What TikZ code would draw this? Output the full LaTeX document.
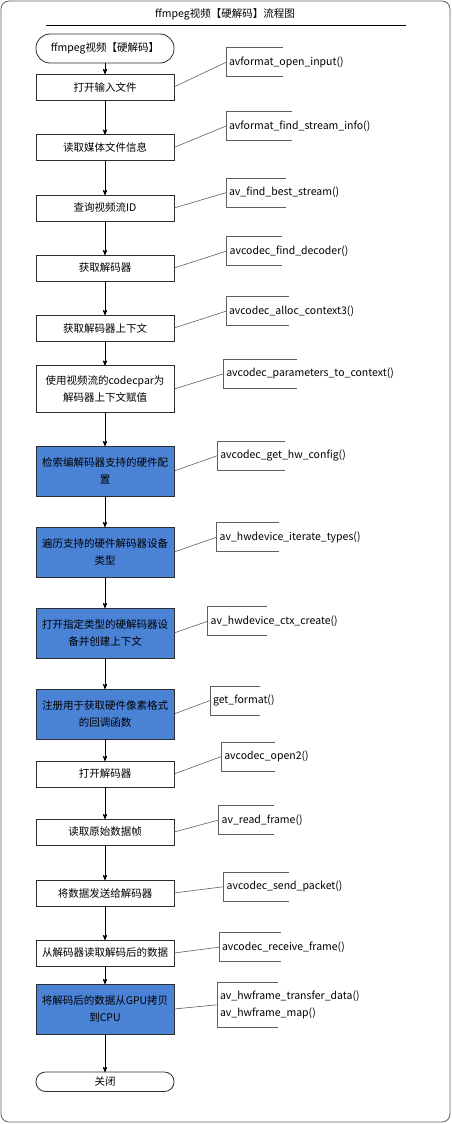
\documentclass[tikz,border=0pt]{standalone}
\usepackage{fontspec}
\setmainfont{Noto Sans CJK SC}
\usepackage{tikz}
\usetikzlibrary{arrows,positioning}

\definecolor{hwblue}{RGB}{74,130,214}
\definecolor{framegray}{RGB}{96,96,96}
\definecolor{edgegray}{RGB}{45,45,45}

\begin{document}
\begin{tikzpicture}[x=1pt,y=-1pt,->,>=stealth',line width=0.8pt,
                    every node/.style={font=\fontsize{10.5}{16.5}\selectfont},
                    plain node/.style={rectangle,draw=edgegray,minimum width=138pt,minimum height=26pt,inner sep=1pt,outer sep=0pt,align=center},
                    hw node/.style={plain node,fill=hwblue,minimum height=50pt},
                    term node/.style={plain node,rounded corners=9.5pt,minimum height=19.5pt},
                    api node/.style={anchor=west,align=left,inner xsep=3pt,inner ysep=0pt,outer sep=0pt,minimum height=29pt},
                    bracket/.style={-,framegray,line width=1pt},
                    link/.style={-,framegray,line width=0.6pt}]
\useasboundingbox (0,0) rectangle (451,1124);
\draw[-,framegray,rounded corners=8pt] (1,1) rectangle (450,1122);
\node (title) at (225,14) {ffmpeg视频【硬解码】流程图};
\draw[-] (46,25) -- (406,25);

% main chain
\node[term node,rounded corners=14pt,minimum height=29pt] (s) at (105,48.5) {ffmpeg视频【硬解码】};
\node[plain node] (1) [below=11pt of s] {打开输入文件};
\node[plain node] (2) [below=34.5pt of 1] {读取媒体文件信息};
\node[plain node] (3) [below=34.5pt of 2] {查询视频流ID};
\node[plain node] (4) [below=34pt of 3] {获取解码器};
\node[plain node] (5) [below=34pt of 4] {获取解码器上下文};
\node[plain node,minimum height=47pt] (6) [below=24.5pt of 5] {使用视频流的codecpar为\\解码器上下文赋值};
\node[hw node] (7) [below=33.5pt of 6] {检索编解码器支持的硬件配\\置};
\node[hw node] (8) [below=31pt of 7] {遍历支持的硬件解码器设备\\类型};
\node[hw node] (9) [below=31pt of 8] {打开指定类型的硬解码器设\\备并创建上下文};
\node[hw node] (10) [below=31pt of 9] {注册用于获取硬件像素格式\\的回调函数};
\node[plain node] (11) [below=22pt of 10] {打开解码器};
\node[plain node] (12) [below=32pt of 11] {读取原始数据帧};
\node[plain node] (13) [below=35pt of 12] {将数据发送给解码器};
\node[plain node] (14) [below=34pt of 13] {从解码器读取解码后的数据};
\node[hw node] (15) [below=18pt of 14] {将解码后的数据从GPU拷贝\\到CPU};
\node[term node] (e) [below=38pt of 15] {关闭};

\path (s) edge (1)
      (1) edge (2)
      (2) edge (3)
      (3) edge (4)
      (4) edge (5)
      (5) edge (6)
      (6) edge (7)
      (7) edge (8)
      (8) edge (9)
      (9) edge (10)
      (10) edge (11)
      (11) edge (12)
      (12) edge (13)
      (13) edge (14)
      (14) edge (15)
      (15) edge (e);

% api calls
\node[api node] (f1) at (226,62.3) {avformat\_open\_input()};
\node[api node] (f2) at (226,126) {avformat\_find\_stream\_info()};
\node[api node] (f3) at (226,192.7) {av\_find\_best\_stream()};
\node[api node] (f4) at (226.7,251) {avcodec\_find\_decoder()};
\node[api node] (f5) at (226,311.2) {avcodec\_alloc\_context3()};
\node[api node] (f6) at (223.3,373.8) {avcodec\_parameters\_to\_context()};
\node[api node] (f7) at (217.3,455.7) {avcodec\_get\_hw\_config()};
\node[api node] (f8) at (216.7,537.2) {av\_hwdevice\_iterate\_types()};
\node[api node] (f9) at (207.7,621.2) {av\_hwdevice\_ctx\_create()};
\node[api node] (f10) at (210,700.5) {get\_format()};
\node[api node] (f11) at (221.3,756.5) {avcodec\_open2()};
\node[api node] (f12) at (218.7,820) {av\_read\_frame()};
\node[api node] (f13) at (223.7,886.7) {avcodec\_send\_packet()};
\node[api node] (f14) at (219,947.2) {avcodec\_receive\_frame()};
\node[api node,minimum height=45pt] (f15) at (217,1004.8) {av\_hwframe\_transfer\_data()\\av\_hwframe\_map()};

\draw[bracket] ([xshift=57pt]f1.north west) -- (f1.north west) -- (f1.south west) -- ([xshift=57pt]f1.south west);
\draw[bracket] ([xshift=66pt]f2.north west) -- (f2.north west) -- (f2.south west) -- ([xshift=66pt]f2.south west);
\draw[bracket] ([xshift=60pt]f3.north west) -- (f3.north west) -- (f3.south west) -- ([xshift=60pt]f3.south west);
\draw[bracket] ([xshift=55pt]f4.north west) -- (f4.north west) -- (f4.south west) -- ([xshift=55pt]f4.south west);
\draw[bracket] ([xshift=63pt]f5.north west) -- (f5.north west) -- (f5.south west) -- ([xshift=63pt]f5.south west);
\draw[bracket] ([xshift=74pt]f6.north west) -- (f6.north west) -- (f6.south west) -- ([xshift=74pt]f6.south west);
\draw[bracket] ([xshift=68pt]f7.north west) -- (f7.north west) -- (f7.south west) -- ([xshift=68pt]f7.south west);
\draw[bracket] ([xshift=62pt]f8.north west) -- (f8.north west) -- (f8.south west) -- ([xshift=62pt]f8.south west);
\draw[bracket] ([xshift=59pt]f9.north west) -- (f9.north west) -- (f9.south west) -- ([xshift=59pt]f9.south west);
\draw[bracket] ([xshift=50pt]f10.north west) -- (f10.north west) -- (f10.south west) -- ([xshift=50pt]f10.south west);
\draw[bracket] ([xshift=54pt]f11.north west) -- (f11.north west) -- (f11.south west) -- ([xshift=54pt]f11.south west);
\draw[bracket] ([xshift=55pt]f12.north west) -- (f12.north west) -- (f12.south west) -- ([xshift=55pt]f12.south west);
\draw[bracket] ([xshift=65pt]f13.north west) -- (f13.north west) -- (f13.south west) -- ([xshift=65pt]f13.south west);
\draw[bracket] ([xshift=62pt]f14.north west) -- (f14.north west) -- (f14.south west) -- ([xshift=62pt]f14.south west);
\draw[bracket] ([xshift=61pt]f15.north west) -- (f15.north west) -- (f15.south west) -- ([xshift=61pt]f15.south west);

\path (1.east) edge[link] (f1.west)
      (2.east) edge[link] (f2.west)
      (3.east) edge[link] (f3.west)
      (4.east) edge[link] (f4.west)
      (5.east) edge[link] (f5.west)
      (6.east) edge[link] (f6.west)
      (7.east) edge[link] (f7.west)
      (8.east) edge[link] (f8.west)
      (9.east) edge[link] (f9.west)
      (10.east) edge[link] (f10.west)
      (11.east) edge[link] (f11.west)
      (12.east) edge[link] (f12.west)
      (13.east) edge[link] (f13.west)
      (14.east) edge[link] (f14.west)
      (15.east) edge[link] (f15.west);
\end{tikzpicture}
\end{document}
